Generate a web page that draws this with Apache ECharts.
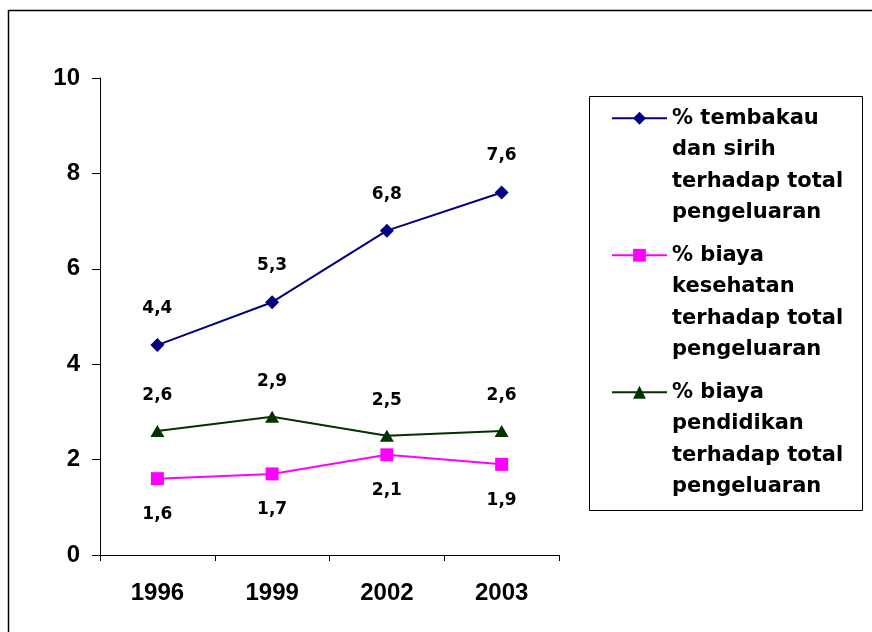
<!DOCTYPE html>
<html>
<head>
<meta charset="utf-8">
<script src="https://cdn.jsdelivr.net/npm/echarts@6/dist/echarts.min.js"></script>
<style>
  html, body { margin: 0; padding: 0; background: #fff; }
  #chart { width: 872px; height: 632px; }
</style>
</head>
<body>
<div id="chart"></div>
<script>
  // data
  var years = ['1996', '1999', '2002', '2003'];
  var tembakau = [4.4, 5.3, 6.8, 7.6];
  var kesehatan = [1.6, 1.7, 2.1, 1.9];
  var pendidikan = [2.6, 2.9, 2.5, 2.6];
  var seriesNames = [
    '% tembakau\ndan sirih\nterhadap total\npengeluaran',
    '% biaya\nkesehatan\nterhadap total\npengeluaran',
    '% biaya\npendidikan\nterhadap total\npengeluaran'
  ];

  var axisFont = 'Liberation Sans, Arial, sans-serif';
  var labelFont = 'DejaVu Sans, sans-serif';

  function dataLabel(pos) {
    return {
      show: true,
      position: pos,
      distance: 21,
      fontFamily: labelFont,
      fontWeight: 'bold',
      fontSize: 17,
      color: '#000',
      formatter: function (p) { return String(p.value).replace('.', ','); }
    };
  }

  var chart = echarts.init(document.getElementById('chart'));
  chart.setOption({
    animation: false,
    backgroundColor: '#fff',
    grid: { left: 100, right: 313, top: 78, bottom: 77 },
    xAxis: {
      type: 'category',
      data: years,
      boundaryGap: true,
      axisLine: { lineStyle: { color: '#000', width: 1 } },
      axisTick: { show: true, length: 6, lineStyle: { color: '#000' } },
      axisLabel: { margin: 26, fontFamily: axisFont, fontWeight: 'bold', fontSize: 24, color: '#000' }
    },
    yAxis: {
      type: 'value',
      min: 0,
      max: 10,
      interval: 2,
      axisLine: { show: true, lineStyle: { color: '#000', width: 1 } },
      axisTick: { show: true, length: 8, lineStyle: { color: '#000' } },
      splitLine: { show: false },
      axisLabel: { margin: 20, fontFamily: axisFont, fontWeight: 'bold', fontSize: 24, color: '#000' }
    },
    legend: {
      orient: 'vertical',
      left: 611,
      top: 8,
      padding: 0,
      itemWidth: 55,
      itemHeight: 16,
      itemGap: -83.5,
      data: seriesNames,
      // blank lines above so the icon sits on the first line of text
      formatter: function (name) { return '\n\n\n' + name; },
      textStyle: {
        fontFamily: labelFont,
        fontWeight: 'bold',
        fontSize: 21,
        lineHeight: 31.5,
        color: '#000'
      }
    },
    graphic: [
      { type: 'rect', shape: { x: 8.5, y: 10.5, width: 900, height: 700 }, style: { fill: null, stroke: '#000', lineWidth: 1.5 }, silent: true },
      { type: 'rect', shape: { x: 589.5, y: 96.5, width: 273, height: 414 }, style: { fill: null, stroke: '#000', lineWidth: 1 }, silent: true }
    ],
    series: [
      {
        name: seriesNames[0],
        type: 'line',
        data: tembakau,
        symbol: 'diamond',
        symbolSize: 14,
        color: '#000080',
        lineStyle: { width: 2, color: '#000080' },
        itemStyle: { color: '#000080' },
        label: dataLabel('top')
      },
      {
        name: seriesNames[1],
        type: 'line',
        data: kesehatan,
        symbol: 'rect',
        symbolSize: 13,
        color: '#ff00ff',
        lineStyle: { width: 2, color: '#ff00ff' },
        itemStyle: { color: '#ff00ff' },
        label: dataLabel('bottom')
      },
      {
        name: seriesNames[2],
        type: 'line',
        data: pendidikan,
        symbol: 'triangle',
        symbolSize: [14, 12],
        color: '#003300',
        lineStyle: { width: 2, color: '#003300' },
        itemStyle: { color: '#003300' },
        label: dataLabel('top')
      }
    ]
  });
</script>
</body>
</html>
